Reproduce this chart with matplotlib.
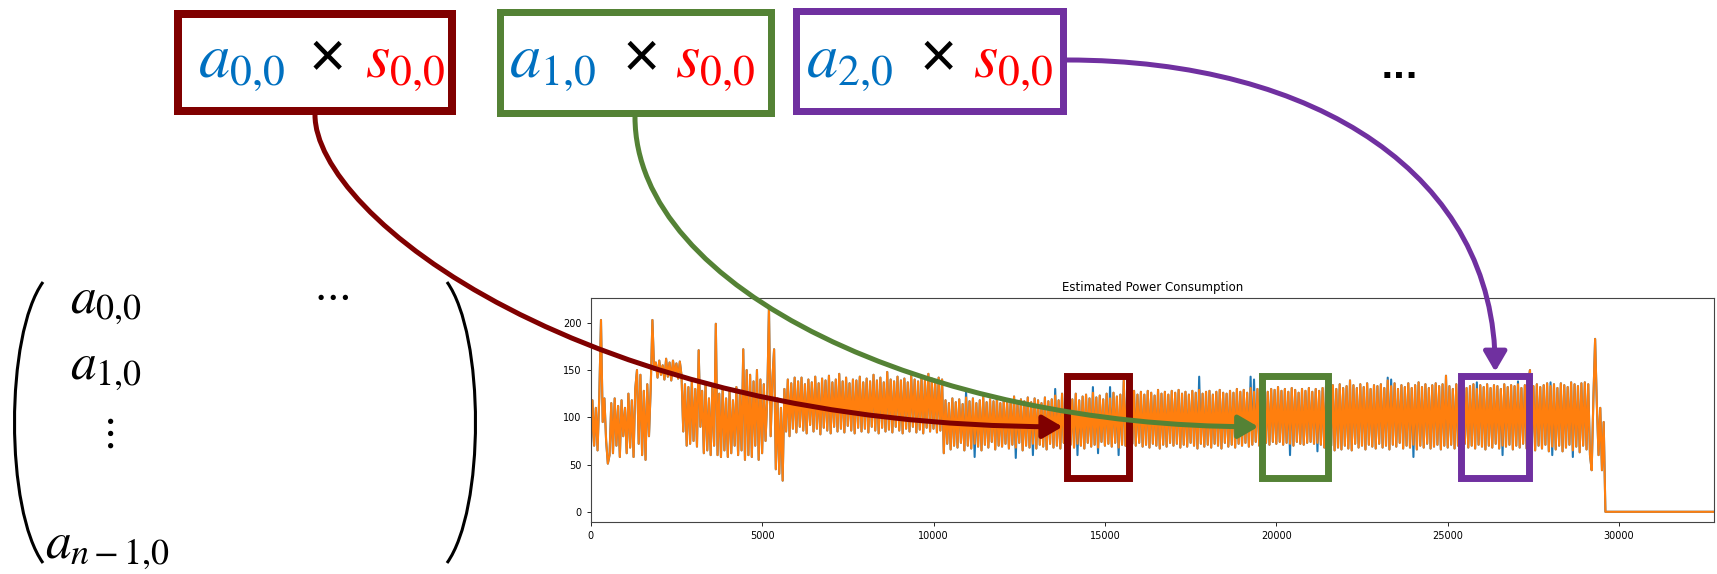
import numpy as np
import matplotlib
matplotlib.use('Agg')
import matplotlib.pyplot as plt
from matplotlib.patches import Rectangle, FancyArrowPatch, PathPatch
from matplotlib.path import Path

plt.rcParams['mathtext.fontset'] = 'stix'

# estimated power, one value every 50 samples
step = 50
estimated = [
    60, 118, 70, 110, 65, 122, 203, 95, 120, 75, 51, 60, 115, 62, 120, 70, 112, 58, 118, 80,
    110, 62, 125, 68, 118, 58, 130, 150, 72, 145, 60, 128, 55, 135, 80, 130, 203, 150, 158, 142,
    160, 145, 155, 140, 162, 143, 158, 139, 160, 146, 157, 141, 159, 144, 85, 135, 70, 132, 72, 139,
    75, 130, 69, 171, 90, 128, 62, 135, 65, 120, 60, 132, 70, 199, 60, 125, 58, 132, 65, 120,
    58, 128, 62, 118, 70, 132, 60, 125, 65, 172, 55, 150, 60, 145, 58, 138, 70, 150, 55, 140,
    62, 135, 75, 120, 216, 80, 140, 172, 45, 120, 40, 110, 33, 130, 85, 140, 80, 136, 88, 142,
    84, 138, 90, 142, 86, 135, 83, 140, 92, 137, 85, 143, 88, 136, 82, 141, 89, 139, 86, 144,
    83, 137, 90, 140, 85, 146, 88, 138, 84, 142, 91, 136, 86, 140, 83, 139, 89, 143, 85, 137,
    88, 141, 84, 138, 90, 145, 86, 139, 83, 142, 89, 137, 85, 148, 87, 140, 84, 138, 90, 143,
    86, 139, 83, 141, 88, 137, 85, 144, 90, 140, 84, 138, 87, 142, 83, 139, 89, 146, 85, 141,
    88, 138, 84, 142, 86, 140, 62, 118, 72, 115, 66, 120, 70, 116, 68, 119, 73, 114, 65, 121,
    70, 117, 67, 120, 72, 115, 69, 118, 65, 122, 71, 116, 68, 119, 74, 117, 66, 121, 70, 115,
    69, 120, 72, 116, 67, 118, 71, 122, 68, 115, 73, 119, 65, 117, 70, 121, 68, 116, 72, 120,
    67, 118, 71, 115, 69, 121, 66, 117, 72, 119, 68, 123, 70, 118, 67, 125, 73, 120, 69, 124,
    71, 119, 68, 125, 72, 118, 70, 122, 67, 124, 73, 120, 69, 126, 71, 121, 68, 123, 74, 119,
    70, 125, 72, 120, 69, 126, 73, 122, 68, 124, 71, 139, 70, 127, 69, 125, 72, 128, 70, 124,
    73, 127, 69, 124, 71, 128, 68, 126, 72, 123, 70, 129, 67, 125, 71, 127, 69, 124, 73, 128,
    70, 126, 72, 129, 68, 125, 71, 127, 69, 124, 73, 128, 70, 126, 67, 129, 72, 125, 69, 127,
    71, 128, 68, 124, 72, 127, 70, 129, 67, 126, 73, 125, 69, 128, 71, 126, 68, 130, 72, 127,
    70, 129, 73, 126, 69, 131, 71, 127, 74, 130, 70, 128, 72, 131, 73, 127, 71, 130, 74, 129,
    72, 132, 74, 128, 71, 130, 73, 127, 72, 131, 70, 129, 74, 126, 72, 130, 71, 128, 73, 131,
    74, 127, 72, 130, 73, 128, 71, 131, 68, 133, 66, 129, 70, 134, 65, 130, 68, 135, 66, 131,
    70, 133, 67, 139, 65, 134, 72, 131, 68, 135, 70, 132, 66, 136, 71, 130, 69, 134, 67, 133,
    72, 135, 68, 131, 70, 139, 66, 133, 71, 136, 69, 130, 73, 134, 67, 132, 70, 136, 68, 131,
    71, 134, 66, 137, 70, 132, 68, 135, 72, 131, 67, 134, 69, 136, 71, 133, 66, 135, 70, 144,
    68, 133, 71, 130, 67, 135, 70, 132, 66, 134, 72, 131, 68, 133, 70, 135, 67, 130, 71, 134,
    69, 132, 66, 135, 70, 131, 68, 134, 72, 133, 67, 130, 70, 135, 69, 132, 71, 134, 66, 133,
    70, 135, 68, 131, 72, 134, 67, 136, 150, 68, 133, 65, 135, 70, 132, 67, 134, 71, 136, 64,
    133, 69, 135, 66, 131, 70, 136, 64, 134, 68, 132, 71, 137, 65, 135, 69, 133, 63, 136, 70,
    137, 66, 135, 60, 44, 120, 183, 114, 60, 110, 44, 95,
]
# after the recording stops the trace sits at zero
tail_x = [29600, 32767]
tail_y = [0, 0]

# measured power only differs from the estimate at these samples
measured_diff = {
    219: 128, 224: 58, 248: 57, 258: 60, 271: 130, 284: 60, 293: 132,
    296: 62, 303: 132, 308: 60, 315: 135, 355: 143, 385: 143, 387: 140,
    408: 60, 424: 64, 465: 142, 467: 140, 480: 58, 517: 137, 532: 60,
    541: 138, 560: 137, 561: 60, 573: 58,
}

# highlighted windows on the trace (x range), shared y range
windows = [(13880, 15710), (19590, 21505), (25386, 27385)]
win_y = (36, 144)
colors = ['#800000', '#548235', '#7030A0']

# product boxes on top (pixel layout)
box_rects = [(178, 14, 452, 111), (500, 12, 771, 113), (796, 11, 1063, 111)]
box_lw = [8, 7, 7]
a_labels = [r'$a_{0{,}0}$', r'$a_{1{,}0}$', r'$a_{2{,}0}$']
a_x = [198, 509, 806]
times_x = [327, 641, 938]
s_x = [365, 675, 973]

W, H = 1717, 574
fig = plt.figure(figsize=(W / 100, H / 100), dpi=100)

ax = fig.add_axes([590.7 / W, 1 - 522 / H, 1123.3 / W, 224.5 / H])
xs = list(np.arange(len(estimated)) * step) + tail_x
est = estimated + tail_y
meas = list(estimated)
for k, v in measured_diff.items():
    meas[k] = v
meas = meas + tail_y
ax.plot(xs, meas, color='#1f77b4', lw=1.5)
ax.plot(xs, est, color='#ff7f0e', lw=1.5)
ax.set_xlim(0, 32768)
ax.set_title('Estimated Power Consumption', fontsize=8.5, pad=5)
ax.tick_params(labelsize=7, length=3, width=0.6)
for sp in ax.spines.values():
    sp.set_linewidth(0.8)
    sp.set_color('#444444')

for (x0, x1), c in zip(windows, colors):
    ax.add_patch(Rectangle((x0, win_y[0]), x1 - x0, win_y[1] - win_y[0],
                           fill=False, edgecolor=c, lw=5, zorder=5, clip_on=False))

# overlay in pixel coordinates, y downwards
ov = fig.add_axes([0, 0, 1, 1])
ov.set_xlim(0, W)
ov.set_ylim(H, 0)
ov.axis('off')
ov.patch.set_alpha(0)


def to_px(x, y):
    dx, dy = ax.transData.transform((x, y))
    return dx, H - dy


for (x0, y0, x1, y1), c, lw in zip(box_rects, colors, box_lw):
    ov.add_patch(Rectangle((x0, y0), x1 - x0, y1 - y0, fill=False,
                           edgecolor=c, lw=lw * 0.72))

for i in range(3):
    ov.text(a_x[i], 77, a_labels[i], color='#0070C0', fontsize=45, va='baseline')
    ov.text(times_x[i], 60, '\u00d7', color='black', fontsize=46, ha='center',
            va='center', family='Liberation Sans')
    ov.text(s_x[i], 77, r'$s_{0{,}0}$', color='#FF0000', fontsize=45, va='baseline')

ov.text(1400, 68, '...', fontsize=24, fontweight='bold', ha='center', va='center')

# curved arrows from the boxes to the windows
mid_y = (win_y[0] + win_y[1]) / 2
tip_r = to_px(windows[0][0], mid_y)
tip_g = to_px(windows[1][0], mid_y)
tip_p = to_px((windows[2][0] + windows[2][1]) / 2, win_y[1])
tip_r = (tip_r[0] - 4, tip_r[1])
tip_g = (tip_g[0] - 4, tip_g[1])
tip_p = (tip_p[0], tip_p[1] - 4)

curves = [
    [(315, 115), (315, 215), (tip_r[0] - 480, tip_r[1]), tip_r],
    [(635, 117), (635, 290), (tip_g[0] - 330, tip_g[1]), tip_g],
    [(1067, 60), (1317, 60), (tip_p[0], tip_p[1] - 196), tip_p],
]
codes = [Path.MOVETO, Path.CURVE4, Path.CURVE4, Path.CURVE4]
for pts, c in zip(curves, colors):
    arr = FancyArrowPatch(path=Path(pts, codes), arrowstyle='-|>,head_length=0.6,head_width=0.35',
                          mutation_scale=20, color=c, lw=3.6, transform=ov.transData)
    ov.add_patch(arr)

# matrix on the left
paren_codes = [Path.MOVETO, Path.CURVE4, Path.CURVE4, Path.CURVE4]
left_paren = Path([(43, 282), (5, 335), (5, 510), (43, 563)], paren_codes)
right_paren = Path([(447, 282), (485, 335), (485, 510), (447, 563)], paren_codes)
for p in (left_paren, right_paren):
    ov.add_patch(PathPatch(p, fill=False, lw=2.2, edgecolor='black'))

ov.text(70, 313, r'$a_{0{,}0}$', fontsize=37, va='baseline')
ov.text(70, 379, r'$a_{1{,}0}$', fontsize=37, va='baseline')
ov.text(107, 432, r'$\vdots$', fontsize=30, ha='center', va='center')
ov.text(45, 558, r'$a_{n-1{,}0}$', fontsize=37, va='baseline')
ov.text(331, 295, r'$\cdots$', fontsize=30, ha='center', va='center')

fig.savefig('out.png', dpi=100)
